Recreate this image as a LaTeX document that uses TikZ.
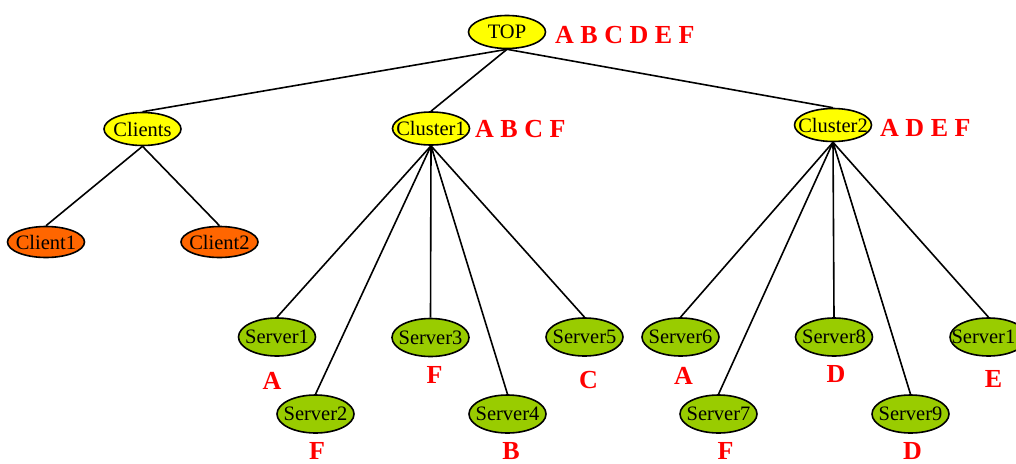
\documentclass[tikz,border=0pt]{standalone}
\usepackage{fontspec}
\setmainfont{Liberation Serif}
\usetikzlibrary{shapes.geometric}
\definecolor{nodeyellow}{RGB}{255,255,0}
\definecolor{nodeorange}{RGB}{255,102,0}
\definecolor{nodegreen}{RGB}{153,204,0}
\definecolor{tagred}{RGB}{255,0,0}
\pgfdeclarelayer{background}
\pgfsetlayers{background,main}
\begin{document}
\begin{tikzpicture}[x=1pt,y=-1pt,
  base/.style={ellipse,draw=black,line width=1.6pt,inner sep=0pt,
    minimum width=77pt,font=\fontsize{20.5}{20.5}\selectfont},
  group/.style={base,fill=nodeyellow,minimum height=33pt},
  client/.style={base,fill=nodeorange,minimum height=31pt},
  server/.style={base,fill=nodegreen,minimum height=38pt},
  tag/.style={text=tagred,font=\bfseries\fontsize{26}{26}\selectfont,inner sep=0pt},
  link/.style={line width=1.6pt}]
\useasboundingbox (0,0) rectangle (1016,463);
\clip (0,0) rectangle (1016,463);

% tree nodes
\node[group]  (top)      at (507,32)    {\makebox[0pt]{TOP}};
\node[group]  (clients)  at (142.5,129) {\makebox[0pt]{Clients}};
\node[group]  (cluster1) at (431,128.5) {\makebox[0pt]{Cluster1}};
\node[group]  (cluster2) at (833,125)   {\makebox[0pt]{Cluster2}};
\node[client] (client1)  at (46,242)    {\makebox[0pt]{Client1}};
\node[client] (client2)  at (219.5,242) {\makebox[0pt]{Client2}};
\node[server] (server1)  at (277,337)   {\makebox[0pt]{Server1}};
\node[server] (server2)  at (315.5,414) {\makebox[0pt]{Server2}};
\node[server] (server3)  at (430.5,337.5) {\makebox[0pt]{Server3}};
\node[server] (server4)  at (507.5,414) {\makebox[0pt]{Server4}};
\node[server] (server5)  at (584.5,337) {\makebox[0pt]{Server5}};
\node[server] (server6)  at (680.5,337) {\makebox[0pt]{Server6}};
\node[server] (server7)  at (718.5,414) {\makebox[0pt]{Server7}};
\node[server] (server8)  at (834,337)   {\makebox[0pt]{Server8}};
\node[server] (server9)  at (910.5,414) {\makebox[0pt]{Server9}};
\node[server] (server10) at (988.5,337) {\makebox[0pt]{Server10}};

% letter tags
\node[tag,anchor=base west] (tagtop) at (555,43)  {A B C D E F};
\node[tag,anchor=base west] (tagc1)  at (475,137) {A B C F};
\node[tag,anchor=base west] (tagc2)  at (880,136) {A D E F};
\node[tag,anchor=base] (tag1)  at (272,389)   {A};
\node[tag,anchor=base] (tag2)  at (317,459)   {F};
\node[tag,anchor=base] (tag3)  at (434.5,383) {F};
\node[tag,anchor=base] (tag4)  at (511,459)   {B};
\node[tag,anchor=base] (tag5)  at (588.5,388) {C};
\node[tag,anchor=base] (tag6)  at (683.5,384) {A};
\node[tag,anchor=base] (tag7)  at (725.5,459) {F};
\node[tag,anchor=base] (tag8)  at (836,382)   {D};
\node[tag,anchor=base] (tag9)  at (912.5,459) {D};
\node[tag,anchor=base] (tag10) at (993.5,387) {E};

% connectors, kept behind the nodes
\begin{pgfonlayer}{background}
  \foreach \child in {clients,cluster1,cluster2}
    \draw[link] (top.south) -- (\child.north);
  \foreach \child in {client1,client2}
    \draw[link] (clients.south) -- (\child.north);
  \foreach \child in {server1,server2,server3,server4,server5}
    \draw[link] (cluster1.south) -- (\child.north);
  \foreach \child in {server6,server7,server8,server9,server10}
    \draw[link] (cluster2.south) -- (\child.north);
\end{pgfonlayer}
\end{tikzpicture}
\end{document}
